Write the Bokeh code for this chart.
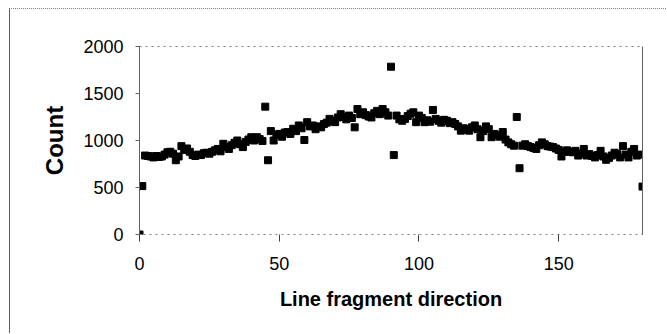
from bokeh.plotting import figure
from bokeh.models import Range1d, FixedTicker, LinearAxis
from bokeh.embed import file_html
from bokeh.resources import INLINE

# Line fragment direction (degrees) and counts
direction = list(range(0, 181))
count = [
    0, 515, 840, 835, 830, 820, 835, 825, 830, 850,
    875, 880, 860, 790, 830, 940, 900, 915, 880, 845,
    835, 850, 845, 865, 870, 860, 880, 895, 910, 885,
    965, 930, 910, 950, 975, 1000, 960, 930, 985, 1010,
    1035, 1000, 1035, 1015, 995, 1360, 790, 1100, 1000, 1060,
    1070, 1040, 1085, 1090, 1070, 1125, 1100, 1160, 1130, 1005,
    1195, 1150, 1160, 1120, 1150, 1140, 1175, 1190, 1230, 1210,
    1195, 1245, 1280, 1250, 1225, 1265, 1240, 1140, 1335, 1280,
    1300, 1270, 1255, 1245, 1290, 1315, 1280, 1335, 1300, 1265,
    1785, 845, 1265, 1225, 1210, 1230, 1260, 1285, 1300, 1195,
    1265, 1240, 1195, 1215, 1200, 1325, 1230, 1210, 1190, 1220,
    1210, 1185, 1195, 1175, 1150, 1105, 1130, 1120, 1105, 1140,
    1160, 1120, 1035, 1100, 1150, 1120, 1035, 1070, 1055, 1040,
    1090, 1010, 980, 960, 945, 1250, 705, 945, 960, 940,
    930, 920, 910, 950, 980, 960, 940, 935, 930, 915,
    900, 830, 880, 895, 880, 875, 890, 840, 860, 910,
    840, 855, 835, 820, 845, 890, 830, 795, 815, 840,
    870, 855, 820, 940, 850, 820, 880, 910, 840, 850,
    510,
]
x_ticks = [0, 50, 100, 150]
y_ticks = [0, 500, 1000, 1500, 2000]
x_title = "Line fragment direction"
y_title = "Count"

FONT = "Liberation Sans"

p = figure(width=657, height=325, output_backend="svg", toolbar_location=None,
           x_range=Range1d(0, 180), y_range=Range1d(0, 2000),
           min_border_left=129, min_border_right=25, min_border_top=37,
           min_border_bottom=100)
p.styles = {"margin-left": "9px", "margin-top": "8px",
            "border-left": "1px solid #606060", "border-top": "1px dotted #808080"}

p.scatter(direction, count, marker="square", size=7, color="black")

p.xgrid.visible = False
p.ygrid.visible = False
p.outline_line_color = "#808080"
p.outline_line_dash = "dotted"

xa = p.xaxis[0]
xa.ticker = FixedTicker(ticks=x_ticks)
xa.axis_line_color = None
xa.major_tick_line_color = "#404040"
xa.major_tick_out = 7
xa.major_tick_in = 0
xa.minor_tick_line_color = None
xa.major_label_text_font = FONT
xa.major_label_text_font_size = "18px"
xa.major_label_text_color = "black"
xa.major_label_standoff = 15
xa.axis_label = x_title
xa.axis_label_text_font = FONT
xa.axis_label_text_font_style = "bold"
xa.axis_label_text_font_size = "20px"
xa.axis_label_text_color = "black"
xa.axis_label_standoff = 15

ya = p.yaxis[0]
ya.ticker = FixedTicker(ticks=y_ticks)
ya.axis_line_color = "#606060"
ya.major_tick_line_color = "#606060"
ya.major_tick_out = 4
ya.major_tick_in = 0
ya.minor_tick_line_color = None
ya.major_label_text_font = FONT
ya.major_label_text_font_size = "18px"
ya.major_label_text_color = "black"
ya.major_label_standoff = 12
ya.axis_label = y_title
ya.axis_label_text_font = FONT
ya.axis_label_text_font_style = "bold"
ya.axis_label_text_font_size = "24px"
ya.axis_label_text_color = "black"
ya.axis_label_standoff = 12

right = LinearAxis(ticker=FixedTicker(ticks=[]), axis_line_color="#606060",
                   major_label_text_font_size="0px", major_tick_line_color=None,
                   minor_tick_line_color=None)
p.add_layout(right, "right")

open("out.html", "w").write(file_html(p, INLINE))
